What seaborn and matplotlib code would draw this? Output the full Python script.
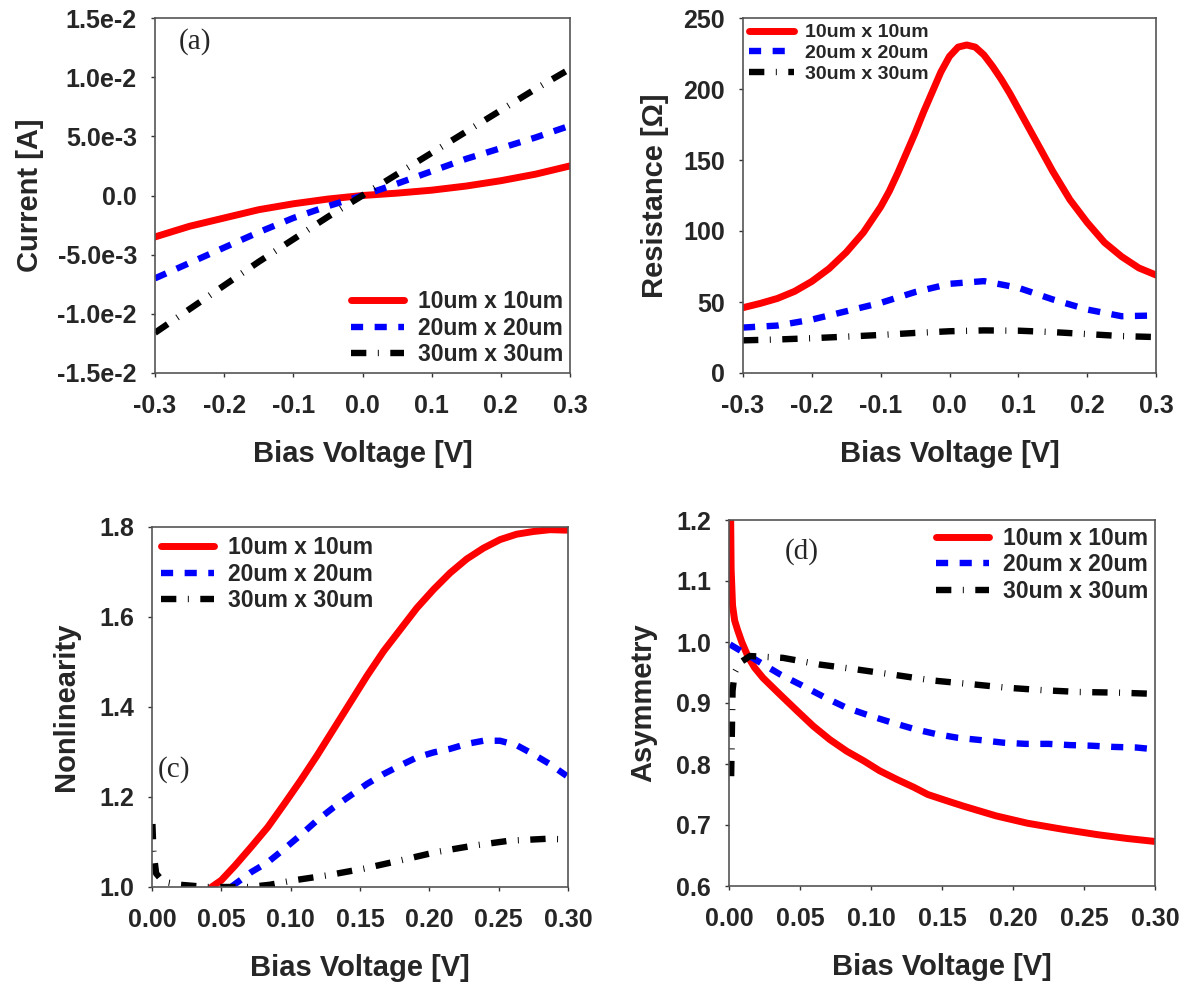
import numpy as np
import pandas as pd
import matplotlib
matplotlib.use("Agg")
import matplotlib.pyplot as plt
import seaborn as sns

# ---------------- data ----------------
labels = ["10um x 10um", "20um x 20um", "30um x 30um"]
colors = ["#ff0000", "#0000ff", "#000000"]

# (a) Current vs bias
volt_a = [-0.3, -0.25, -0.2, -0.15, -0.1, -0.05, 0.0, 0.05, 0.1, 0.15, 0.2, 0.25, 0.3]
cur_10 = [-3.5e-3, -2.6e-3, -1.9e-3, -1.2e-3, -0.7e-3, -0.3e-3, 0.0, 0.2e-3, 0.45e-3, 0.8e-3, 1.25e-3, 1.8e-3, 2.5e-3]
cur_20 = [-7.0e-3, -5.7e-3, -4.4e-3, -3.1e-3, -1.9e-3, -0.9e-3, 0.0, 1.0e-3, 2.05e-3, 3.1e-3, 4.0e-3, 4.9e-3, 5.9e-3]
cur_30 = [-11.6e-3, -9.6e-3, -7.6e-3, -5.6e-3, -3.7e-3, -1.8e-3, 0.0, 1.8e-3, 3.6e-3, 5.4e-3, 7.2e-3, 9.0e-3, 10.7e-3]

# (b) Resistance vs bias
volt_b10 = [-0.3, -0.275, -0.25, -0.225, -0.2, -0.175, -0.15, -0.125, -0.1, -0.0875, -0.075,
            -0.0625, -0.05, -0.0375, -0.025, -0.0125, 0.0, 0.0125, 0.025, 0.0375, 0.05, 0.0625,
            0.075, 0.0875, 0.1, 0.1125, 0.125, 0.15, 0.175, 0.2, 0.225, 0.25, 0.275, 0.3]
res_10 = [46, 49, 52.5, 57.5, 64.5, 73.5, 85, 99, 117, 128, 141,
          155, 169, 184, 198, 212, 223, 229.5, 231, 229.5, 224, 216,
          207, 197, 186, 175, 164, 142, 122, 106, 92, 82, 74, 69]
volt_b = [-0.3, -0.25, -0.2, -0.15, -0.1, -0.05, 0.0, 0.05, 0.1, 0.15, 0.2, 0.25, 0.3]
res_20 = [32, 33.4, 37.6, 43.5, 49.4, 57, 62.8, 64.7, 60, 51.8, 44.7, 40, 40.5]
res_30 = [23, 23.6, 24.5, 25.6, 26.8, 28.2, 29.4, 30, 29.8, 28.8, 27.4, 26, 25.3]

# (c) Nonlinearity vs bias
volt_c10 = [0.043, 0.05, 0.06, 0.0715, 0.0835, 0.0955, 0.107, 0.119, 0.131, 0.143, 0.155, 0.167,
            0.179, 0.191, 0.203, 0.215, 0.227, 0.239, 0.251, 0.263, 0.275, 0.287, 0.299]
nl_10 = [1.0, 1.015, 1.048, 1.089, 1.133, 1.185, 1.236, 1.292, 1.351, 1.41, 1.469, 1.524,
         1.572, 1.62, 1.661, 1.698, 1.729, 1.753, 1.772, 1.784, 1.79, 1.794, 1.793]
volt_c20 = [0.057, 0.0715, 0.0835, 0.0955, 0.107, 0.119, 0.131, 0.143, 0.155, 0.167, 0.179,
            0.191, 0.203, 0.215, 0.227, 0.239, 0.251, 0.263, 0.275, 0.287, 0.299]
nl_20 = [1.0, 1.033, 1.055, 1.085, 1.115, 1.148, 1.177, 1.203, 1.229, 1.251, 1.27,
         1.288, 1.299, 1.307, 1.318, 1.325, 1.325, 1.315, 1.295, 1.273, 1.247]
volt_c30 = [0.0003, 0.001, 0.003, 0.008, 0.02, 0.04, 0.07, 0.085, 0.1026, 0.1266, 0.153, 0.179,
            0.2055, 0.232, 0.258, 0.284, 0.299]
nl_30 = [1.14, 1.08, 1.03, 1.012, 1.005, 1.0, 1.0, 1.005, 1.015, 1.026, 1.041, 1.059,
         1.078, 1.092, 1.103, 1.107, 1.106]

# (d) Asymmetry vs bias
volt_d10 = [0.001, 0.0015, 0.0025, 0.004, 0.006, 0.009, 0.0136, 0.018, 0.024, 0.0359, 0.048,
            0.0594, 0.071, 0.0829, 0.095, 0.106, 0.118, 0.13, 0.14, 0.153, 0.165, 0.188,
            0.21, 0.235, 0.26, 0.28, 0.3]
asym_10 = [1.25, 1.12, 1.06, 1.035, 1.02, 1.0, 0.975, 0.958, 0.941, 0.914, 0.887,
           0.862, 0.84, 0.821, 0.805, 0.789, 0.775, 0.762, 0.75, 0.74, 0.731, 0.715,
           0.703, 0.693, 0.684, 0.678, 0.673]
volt_d20 = [0.0007, 0.0194, 0.0359, 0.0512, 0.0676, 0.0829, 0.0993, 0.1146, 0.131, 0.146, 0.161,
            0.178, 0.193, 0.209, 0.225, 0.24, 0.255, 0.271, 0.287, 0.3]
asym_20 = [0.996, 0.97, 0.947, 0.929, 0.909, 0.892, 0.879, 0.868, 0.857, 0.849, 0.843,
           0.839, 0.835, 0.833, 0.833, 0.831, 0.83, 0.828, 0.827, 0.824]
volt_d30 = [0.0015, 0.002, 0.0025, 0.004, 0.0077, 0.0148, 0.038, 0.064, 0.09, 0.117, 0.143,
            0.17, 0.196, 0.221, 0.247, 0.274, 0.299]
asym_30 = [0.78, 0.85, 0.92, 0.95, 0.966, 0.977, 0.974, 0.963, 0.955, 0.946, 0.937,
           0.931, 0.925, 0.921, 0.918, 0.917, 0.915]

xt_ab = [-0.3, -0.2, -0.1, 0.0, 0.1, 0.2, 0.3]
xt_ab_lab = ["-0.3", "-0.2", "-0.1", "0.0", "0.1", "0.2", "0.3"]
xt_cd = [0.0, 0.05, 0.1, 0.15, 0.2, 0.25, 0.3]
xt_cd_lab = ["0.00", "0.05", "0.10", "0.15", "0.20", "0.25", "0.30"]
yt_a = [-0.015, -0.01, -0.005, 0.0, 0.005, 0.01, 0.015]
yt_a_lab = ["-1.5e-2", "-1.0e-2", "-5.0e-3", "0.0", "5.0e-3", "1.0e-2", "1.5e-2"]
yt_b = [0, 50, 100, 150, 200, 250]
yt_c = [1.0, 1.2, 1.4, 1.6, 1.8]
yt_d = [0.6, 0.7, 0.8, 0.9, 1.0, 1.1, 1.2]

# ---------------- style ----------------
sns.set_theme(style="ticks")
plt.rcParams["font.family"] = ["Liberation Sans", "DejaVu Sans"]
plt.rcParams["font.weight"] = "bold"
plt.rcParams["axes.labelweight"] = "bold"

styles = [dict(linestyle="-", linewidth=5.0),
          dict(linestyle=(0, (1.9, 1.8)), linewidth=4.6),
          dict(linestyle=(0, (2.4, 1.8, 0.15, 1.8)), linewidth=4.6)]

fig = plt.figure(figsize=(11.86, 9.86), dpi=100)
W, H = 1186.0, 986.0


def make_ax(l, r, t, b):
    return fig.add_axes([l / W, 1 - b / H, (r - l) / W, (b - t) / H])


ax_a = make_ax(155, 570, 18, 373)
ax_b = make_ax(743, 1156, 18, 373)
ax_c = make_ax(152, 568, 527, 887)
ax_d = make_ax(729, 1155, 520, 886)


def draw(ax, xs, ys):
    for i, (x, y) in enumerate(zip(xs, ys)):
        df = pd.DataFrame({"x": x, "y": y})
        sns.lineplot(data=df, x="x", y="y", ax=ax, color=colors[i], sort=False,
                     estimator=None, label=labels[i], **styles[i])


draw(ax_a, [volt_a, volt_a, volt_a], [cur_10, cur_20, cur_30])
draw(ax_b, [volt_b10, volt_b, volt_b], [res_10, res_20, res_30])
draw(ax_c, [volt_c10, volt_c20, volt_c30], [nl_10, nl_20, nl_30])
draw(ax_d, [volt_d10, volt_d20, volt_d30], [asym_10, asym_20, asym_30])

cfg = [
    (ax_a, (-0.3, 0.3), (-0.015, 0.015), xt_ab, xt_ab_lab, yt_a, yt_a_lab, "Current [A]", 10),
    (ax_b, (-0.3, 0.3), (0, 250), xt_ab, xt_ab_lab, yt_b, [str(v) for v in yt_b], "Resistance [\u03a9]", 10),
    (ax_c, (0.0, 0.3), (1.0, 1.8), xt_cd, xt_cd_lab, yt_c, ["%.1f" % v for v in yt_c], "Nonlinearity", 13.5),
    (ax_d, (0.0, 0.3), (0.6, 1.2), xt_cd, xt_cd_lab, yt_d, ["%.1f" % v for v in yt_d], "Asymmetry", 13.5),
]
for ax, xl, yl, xt, xtl, yt, ytl, ylab, ypad in cfg:
    ax.set_xlim(*xl)
    ax.set_ylim(*yl)
    ax.set_xticks(xt)
    ax.set_xticklabels(xtl)
    ax.set_yticks(yt)
    ax.set_yticklabels(ytl)
    ax.set_xlabel("Bias Voltage [V]", fontsize=21, fontweight="bold", labelpad=16)
    ax.set_ylabel(ylab, fontsize=21, fontweight="bold", labelpad=ypad)
    ax.tick_params(axis="both", labelsize=18, length=3, width=1, direction="out",
                   color="#333333")
    ax.tick_params(axis="x", pad=12)
    ax.tick_params(axis="y", pad=10)
    for lab in ax.get_xticklabels() + ax.get_yticklabels():
        lab.set_fontweight("bold")
    for sp in ax.spines.values():
        sp.set_visible(True)
        sp.set_color("#555555")
        sp.set_linewidth(1.2)
    ax.grid(False)

legkw = dict(frameon=False, handlelength=2.3, handletextpad=0.6, labelspacing=0.15,
             borderpad=0.2)
ax_a.legend(loc="lower right", borderaxespad=0.1, prop={"weight": "bold", "size": 16.5}, **legkw)
ax_b.legend(loc="upper left", borderaxespad=0.1, prop={"weight": "bold", "size": 14}, **legkw)
ax_c.legend(loc="upper left", borderaxespad=0.2, prop={"weight": "bold", "size": 16.5}, **legkw)
ax_d.legend(loc="upper right", borderaxespad=0.1, prop={"weight": "bold", "size": 16.5}, **legkw)

serif = ["Liberation Serif", "DejaVu Serif"]
ax_a.text(0.097, 0.935, "(a)", transform=ax_a.transAxes, fontsize=21, family=serif,
          fontweight="normal", ha="center", va="center")
ax_c.text(0.053, 0.325, "(c)", transform=ax_c.transAxes, fontsize=21, family=serif,
          fontweight="normal", ha="center", va="center")
ax_d.text(0.170, 0.915, "(d)", transform=ax_d.transAxes, fontsize=21, family=serif,
          fontweight="normal", ha="center", va="center")

fig.savefig("out.png", dpi=100)
